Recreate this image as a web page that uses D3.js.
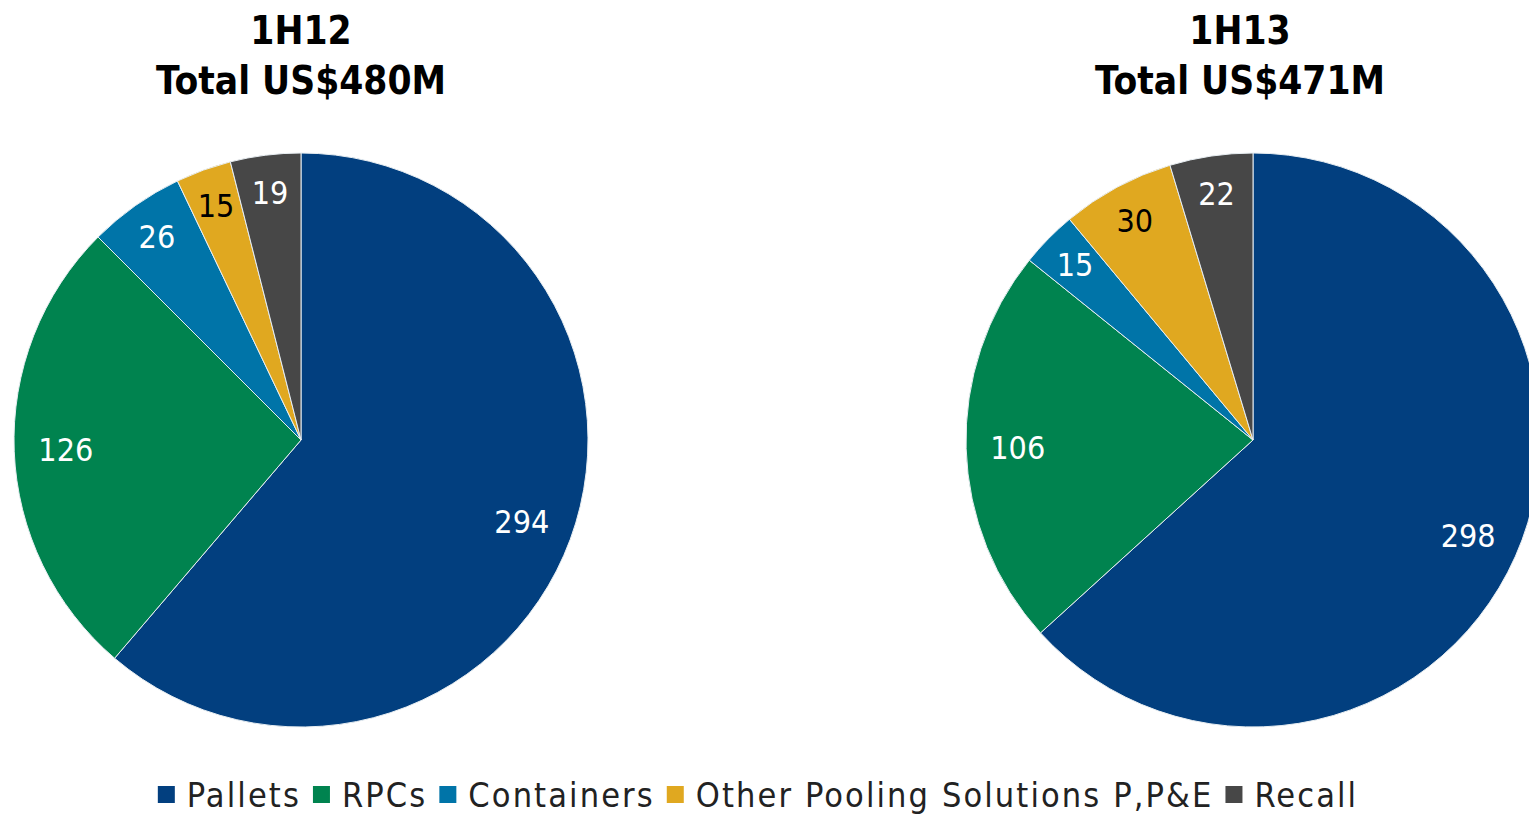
<!DOCTYPE html>
<html>
<head>
<meta charset="utf-8">
<title>D3</title>
<script src="https://d3js.org/d3.v7.min.js"></script>
<style>
  body { margin: 0; background: #fff; }
  text { font-family: "DejaVu Sans Condensed", "DejaVu Sans", sans-serif; }
</style>
</head>
<body>
<script>
var categories = ["Pallets", "RPCs", "Containers", "Other Pooling Solutions P,P&E", "Recall"];
var colors = ["#023f7f", "#00834f", "#0074a8", "#e0a820", "#474747"];
var labelColors = ["#fff", "#fff", "#fff", "#000", "#fff"];
var values12 = [294, 126, 26, 15, 19];
var values13 = [298, 106, 15, 30, 22];
var periods = ["1H12", "1H13"];
var totals = ["Total US$480M", "Total US$471M"];

var width = 1529, height = 815;
var svg = d3.select("body").append("svg")
  .attr("width", width).attr("height", height);

var R = 287;
var pies = [
  {vals: values12, cx: 301, cy: 440, tx: 301, title: periods[0], total: totals[0]},
  {vals: values13, cx: 1253, cy: 440, tx: 1240, title: periods[1], total: totals[1]}
];

var pie = d3.pie().sort(null).value(function(d){ return d; });
var arc = d3.arc().innerRadius(0).outerRadius(R);

pies.forEach(function(p){
  var g = svg.append("g").attr("transform", "translate(" + p.cx + "," + p.cy + ")");
  var arcs = pie(p.vals);
  g.selectAll("path").data(arcs).enter().append("path")
    .attr("d", arc)
    .attr("fill", function(d,i){ return colors[i]; })
    .attr("stroke", "#e8eef2")
    .attr("stroke-width", 1);
  g.selectAll("text").data(arcs).enter().append("text")
    .attr("transform", function(d){
      var a = (d.startAngle + d.endAngle) / 2;
      var r = (d.endAngle - d.startAngle) < 0.5 ? R * 0.87 : R * 0.82;
      return "translate(" + (Math.sin(a) * r) + "," + (-Math.cos(a) * r) + ")";
    })
    .attr("text-anchor", "middle")
    .attr("dy", "0.36em")
    .attr("font-size", 32)
    .attr("fill", function(d,i){ return labelColors[i]; })
    .text(function(d){ return d.data; });

  svg.append("text").attr("x", p.tx).attr("y", 44)
    .attr("text-anchor", "middle").attr("font-size", 38.5).attr("font-weight", "bold")
    .text(p.title);
  svg.append("text").attr("x", p.tx).attr("y", 94)
    .attr("text-anchor", "middle").attr("font-size", 38.5).attr("font-weight", "bold")
    .text(p.total);
});

// legend
var legend = svg.append("g");
var x = 0;
categories.forEach(function(c, i){
  legend.append("rect").attr("x", x).attr("y", -9).attr("width", 17).attr("height", 17)
    .attr("fill", colors[i]);
  var t = legend.append("text").attr("x", x + 29).attr("y", 0).attr("dy", "0.36em")
    .attr("font-size", 34).attr("letter-spacing", 2.1).attr("fill", "#222").text(c);
  x += 29 + t.node().getComputedTextLength() + 12;
});
x -= 12;
legend.attr("transform", "translate(" + (758 - x / 2) + ",795)");
</script>
</body>
</html>
